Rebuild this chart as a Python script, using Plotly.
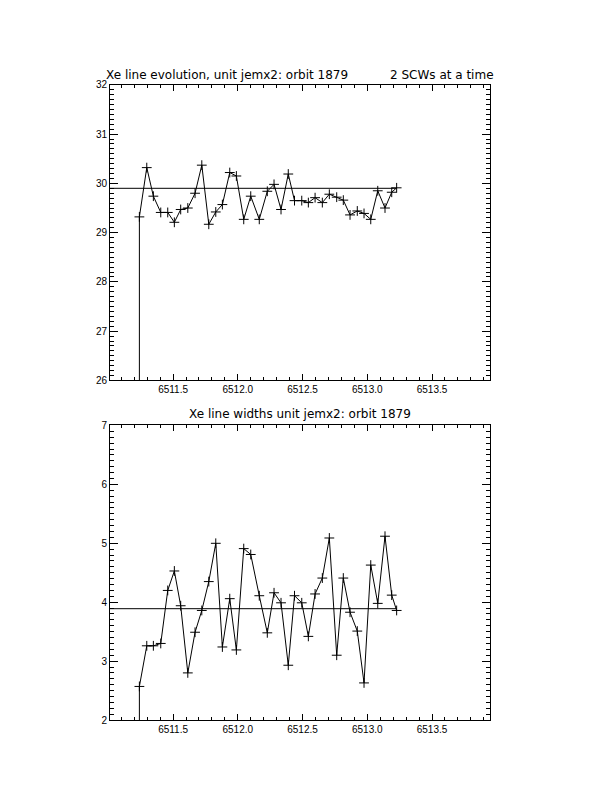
import numpy as np
import plotly.graph_objects as go

# ---- data ----
times = [6511.240, 6511.297, 6511.348, 6511.405, 6511.459, 6511.510, 6511.559, 6511.614,
         6511.670, 6511.722, 6511.776, 6511.830, 6511.881, 6511.938, 6511.989, 6512.046,
         6512.100, 6512.166, 6512.228, 6512.280, 6512.334, 6512.390, 6512.438, 6512.494,
         6512.545, 6512.597, 6512.653, 6512.707, 6512.764, 6512.815, 6512.867, 6512.923,
         6512.975, 6513.027, 6513.081, 6513.137, 6513.189, 6513.227]

line_energy = [29.32, 30.32, 29.74, 29.41, 29.41, 29.21, 29.47, 29.50, 29.80, 30.37,
               29.17, 29.42, 29.57, 30.22, 30.15, 29.27, 29.74, 29.27, 29.84, 29.98,
               29.47, 30.19, 29.65, 29.65, 29.61, 29.71, 29.61, 29.78, 29.72, 29.66,
               29.36, 29.44, 29.39, 29.27, 29.85, 29.50, 29.82, 29.91]

line_width = [2.57, 3.26, 3.26, 3.30, 4.20, 4.53, 3.94, 2.80, 3.49, 3.86,
              4.35, 5.00, 3.24, 4.06, 3.19, 4.91, 4.81, 4.11, 3.48, 4.16,
              3.99, 2.93, 4.11, 3.99, 3.42, 4.14, 4.41, 5.09, 3.10, 4.41,
              3.83, 3.51, 2.63, 4.63, 3.98, 5.12, 4.12, 3.86]

# leading point (off-scale, zero) that produces the vertical drop at the start
start_value = 0.0

ref_energy = 29.90
ref_width = 3.89

x_range = [6511.013, 6513.948]
y_range_top = [26, 32]
y_range_bot = [2, 7]

title_top_left = "Xe line evolution, unit jemx2: orbit 1879"
title_top_right = "2 SCWs at a time"
title_bottom = "Xe line widths unit jemx2: orbit 1879"

# ---- figure ----
PAGE_MARGIN = 8          # default body margin of the html page
W, H = 612 - 2 * PAGE_MARGIN, 792 - 2 * PAGE_MARGIN
FONT = "Liberation Sans, Arial, sans-serif"
TITLE_FONT = "DejaVu Sans, sans-serif"

fig = go.Figure()

xs = [times[0]] + times

def add_series(vals, ref, xa, ya):
    fig.add_trace(go.Scatter(
        x=xs, y=[start_value] + vals, mode="lines+markers",
        line=dict(color="black", width=1),
        marker=dict(symbol="cross-thin", size=7, color="black",
                    line=dict(color="black", width=1)),
        xaxis=xa, yaxis=ya, showlegend=False, hoverinfo="x+y"))
    fig.add_trace(go.Scatter(
        x=[x_range[0], times[-1]], y=[ref, ref], mode="lines",
        line=dict(color="black", width=1),
        xaxis=xa, yaxis=ya, showlegend=False, hoverinfo="skip"))

add_series(line_energy, ref_energy, "x", "y")
add_series(line_width, ref_width, "x2", "y2")

# convert page pixel positions to paper fractions
def px_x(p):
    return (p - PAGE_MARGIN) / W

def px_y(p):
    return 1 - (p - PAGE_MARGIN) / H

xdom = [px_x(110), px_x(490)]
top_dom = [px_y(380.7), px_y(80.9)]
bot_dom = [px_y(725.2), px_y(426.4)]

def xaxis_cfg(anchor):
    return dict(domain=xdom, range=x_range, anchor=anchor,
                tickmode="linear", tick0=6511.5, dtick=0.5, tickformat=".1f",
                ticks="inside", ticklen=6, tickwidth=1, tickcolor="black",
                minor=dict(ticks="inside", ticklen=3, tickwidth=1, tickcolor="black",
                           tick0=6511.0, dtick=0.1),
                showline=True, linecolor="black", linewidth=1, mirror="allticks",
                showgrid=False, zeroline=False,
                tickfont=dict(family=FONT, size=10, color="black"))

def yaxis_cfg(anchor, dom, rng):
    return dict(domain=dom, range=rng, anchor=anchor,
                tickmode="linear", tick0=rng[0], dtick=1,
                ticks="inside", ticklen=8, tickwidth=1, tickcolor="black",
                minor=dict(ticks="inside", ticklen=4, tickwidth=1, tickcolor="black",
                           tick0=rng[0], dtick=0.1),
                showline=True, linecolor="black", linewidth=1, mirror="allticks",
                showgrid=False, zeroline=False,
                tickfont=dict(family=FONT, size=10, color="black"))

fig.update_layout(
    width=W, height=H,
    margin=dict(l=0, r=0, t=0, b=0),
    paper_bgcolor="white", plot_bgcolor="white",
    xaxis=xaxis_cfg("y"),
    yaxis=yaxis_cfg("x", top_dom, y_range_top),
    xaxis2=xaxis_cfg("y2"),
    yaxis2=yaxis_cfg("x2", bot_dom, y_range_bot),
    annotations=[
        dict(text=title_top_left, x=px_x(104), y=px_y(70.7), xref="paper", yref="paper",
             xanchor="left", yanchor="middle", showarrow=False,
             font=dict(family=TITLE_FONT, size=12, color="black")),
        dict(text=title_top_right, x=px_x(496), y=px_y(70.7), xref="paper", yref="paper",
             xanchor="right", yanchor="middle", showarrow=False,
             font=dict(family=TITLE_FONT, size=12, color="black")),
        dict(text=title_bottom, x=px_x(300), y=px_y(415.2), xref="paper", yref="paper",
             xanchor="center", yanchor="middle", showarrow=False,
             font=dict(family=TITLE_FONT, size=12, color="black")),
    ],
)

fig.write_html("out.html")
